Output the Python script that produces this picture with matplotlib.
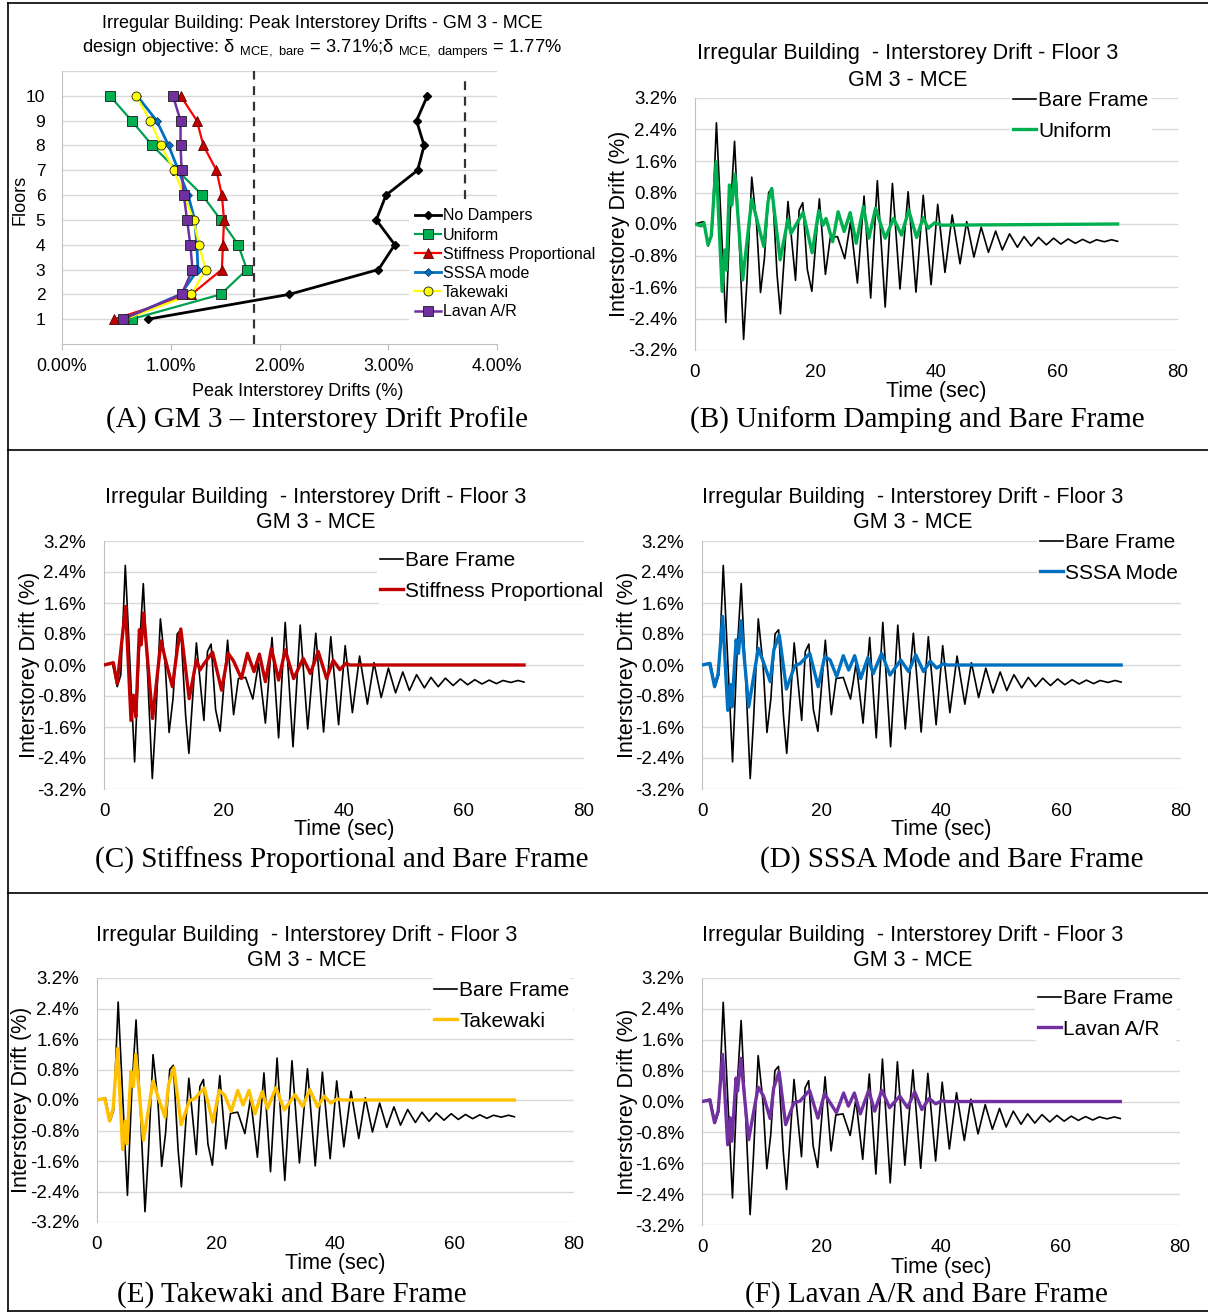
import matplotlib
matplotlib.use("Agg")
import matplotlib.pyplot as plt
from matplotlib.lines import Line2D

plt.rcParams['font.family'] = ['Liberation Sans', 'DejaVu Sans']

W, H = 1208, 1313

# ---------------- Peak interstorey drift profile (%) ----------------
floors = [1, 2, 3, 4, 5, 6, 7, 8, 9, 10]
no_dampers = [0.79, 2.09, 2.91, 3.06, 2.89, 2.98, 3.27, 3.33, 3.26, 3.36]
uniform_pk = [0.64, 1.46, 1.70, 1.62, 1.46, 1.29, 1.06, 0.83, 0.64, 0.44]
stiffness_pk = [0.48, 1.19, 1.47, 1.48, 1.49, 1.47, 1.42, 1.30, 1.24, 1.09]
sssa_pk = [0.56, 1.09, 1.25, 1.24, 1.22, 1.16, 1.07, 0.98, 0.87, 0.69]
takewaki_pk = [0.58, 1.19, 1.32, 1.26, 1.21, 1.12, 1.03, 0.91, 0.81, 0.68]
lavan_pk = [0.56, 1.10, 1.20, 1.18, 1.15, 1.12, 1.10, 1.09, 1.09, 1.02]
drift_mce_dampers = 1.77
drift_mce_bare = 3.71
dampers_limit_floors = [0.0, 11.0]
bare_limit_floors = [5.85, 10.75]

# ---------------- Floor 3 drift time histories (%) ----------------
bare_t = [0, 1.4, 2.2, 2.8, 3.55, 5.1, 5.85, 6.55, 7.25, 8.05, 8.6, 9.4, 10.2,
          10.85, 11.5, 12.2, 12.8, 13.6, 14.15, 15.4, 16.65, 17.25, 17.85, 18.6,
          19.35, 20.6, 21.6, 22.4, 23.6, 24.8, 25.75, 26.9, 28.0, 29.1, 30.2,
          31.5, 32.7, 33.95, 35.3, 36.6, 37.8, 39.1, 40.2, 41.4, 42.6, 43.9,
          45.0, 46.2, 47.4, 48.6, 49.8, 50.9, 52.1, 53.4, 54.5, 55.7, 56.9,
          58.2, 59.4, 60.6, 61.8, 63.0, 64.2, 65.4, 66.5, 67.8, 69.0, 70.0]
bare_v = [0, 0.06, -0.56, -0.26, 2.57, -2.50, 0.30, 2.10, -0.18, -2.93, -1.45,
          1.19, 0.0, -1.74, -0.87, 0.80, 0.91, -1.30, -2.28, 0.57, -1.43, 0.35,
          0.54, -1.15, -1.71, 0.64, -1.28, -0.35, -0.32, -0.88, 0.05, -1.50,
          0.71, -1.88, 1.10, -2.11, 1.03, -1.65, 0.82, -1.73, 0.73, -1.54, 0.50,
          -1.23, 0.23, -1.01, 0.06, -0.84, -0.08, -0.72, -0.18, -0.66, -0.25,
          -0.59, -0.32, -0.56, -0.34, -0.53, -0.36, -0.51, -0.38, -0.49, -0.39,
          -0.48, -0.40, -0.45, -0.40, -0.44]

uniform_t = [0, 1.05, 1.5, 2.15, 2.7, 3.5, 4.5, 4.9, 5.2, 5.7, 6.1, 6.6, 7.9,
             9.4, 10.4, 11.4, 12.1, 12.7, 14.1, 15.4, 15.9, 16.8, 17.9, 19.4,
             20.5, 21.2, 21.7, 22.8, 23.7, 24.7, 25.7, 26.7, 27.9, 28.8, 29.9,
             31.5, 32.9, 34.2, 35.4, 36.7, 37.8, 38.6, 39.7, 40.9, 70.0]
uniform_v = [0, -0.05, 0.03, -0.53, -0.30, 1.58, -1.71, -0.66, -1.17, 0.99,
             0.48, 1.27, -1.42, 0.63, 0.02, -0.57, 0.57, 0.90, -0.91, 0.12,
             -0.24, 0.0, 0.29, -0.73, 0.34, -0.03, 0.14, -0.45, 0.31, -0.19,
             0.29, -0.49, 0.44, -0.36, 0.40, -0.36, 0.14, -0.28, 0.35, -0.34,
             0.16, -0.11, 0.03, -0.03, 0.0]

stiff_t = [0, 1.55, 2.2, 3.6, 4.5, 4.9, 5.3, 5.9, 6.2, 6.6, 8.1, 9.5, 10.4,
           11.4, 12.2, 12.8, 14.2, 15.4, 16.0, 16.7, 18.1, 19.6, 20.7, 21.6,
           22.9, 23.9, 25.0, 25.9, 26.9, 27.9, 29.1, 30.2, 31.6, 33.2, 34.4,
           35.7, 37.1, 38.2, 39.3, 40.3, 41.0, 70.0]
stiff_v = [0, 0.06, -0.48, 1.51, -1.43, -0.78, -1.34, 0.91, 0.52, 1.34, -1.38,
           0.62, 0.04, -0.56, 0.39, 0.93, -0.87, 0.13, -0.13, 0.04, 0.33, -0.65,
           0.30, 0.10, -0.35, 0.30, -0.17, 0.28, -0.43, 0.43, -0.39, 0.39,
           -0.35, 0.17, -0.22, 0.35, -0.35, 0.12, -0.12, 0.04, 0.0, 0.0]

sssa_t = [0, 1.3, 2.1, 2.7, 3.45, 4.3, 4.7, 5.0, 5.7, 6.1, 6.5, 7.8, 9.4, 10.2,
          11.4, 12.0, 12.9, 14.1, 15.5, 16.4, 18.0, 19.4, 20.5, 21.4, 22.5,
          23.6, 24.5, 25.5, 26.5, 27.7, 28.6, 30.0, 31.4, 33.2, 34.5, 35.7,
          37.0, 38.1, 39.2, 40.3, 41.0, 70.0]
sssa_v = [0, 0.04, -0.56, -0.22, 1.25, -1.17, -0.50, -1.08, 0.65, 0.30, 1.14,
          -1.08, 0.43, 0.10, -0.43, 0.39, 0.78, -0.62, -0.02, 0.04, 0.30,
          -0.56, 0.22, 0.13, -0.30, 0.24, -0.13, 0.24, -0.35, 0.19, -0.22,
          0.30, -0.26, 0.13, -0.17, 0.26, -0.17, 0.10, -0.08, 0.03, 0.0, 0.0]

takewaki_t = [0, 1.3, 2.1, 2.7, 3.45, 4.3, 4.7, 5.0, 5.7, 6.1, 6.5, 7.8, 9.4,
              10.2, 11.4, 12.0, 12.9, 14.1, 15.5, 16.4, 18.0, 19.4, 20.5,
              21.4, 22.5, 23.6, 24.5, 25.5, 26.5, 27.7, 28.6, 30.0, 31.4,
              33.2, 34.5, 35.7, 37.0, 38.1, 39.2, 40.3, 41.0, 70.0]
takewaki_v = [0, 0.04, -0.55, -0.22, 1.35, -1.30, -0.55, -1.15, 0.75, 0.35,
              1.20, -1.05, 0.50, 0.10, -0.45, 0.40, 0.85, -0.65, -0.02, 0.04,
              0.32, -0.58, 0.25, 0.13, -0.30, 0.25, -0.13, 0.25, -0.36, 0.22,
              -0.22, 0.32, -0.26, 0.14, -0.17, 0.27, -0.18, 0.10, -0.08, 0.03,
              0.0, 0.0]

lavan_t = [0, 1.3, 2.1, 2.7, 3.45, 4.3, 4.7, 5.0, 5.7, 5.95, 6.5, 7.8, 9.4,
           10.3, 11.4, 12.0, 12.9, 14.0, 15.4, 16.4, 18.0, 19.4, 20.5, 22.5,
           23.7, 24.5, 25.5, 26.5, 27.9, 28.9, 30.1, 31.4, 33.1, 34.4, 35.6,
           36.8, 38.0, 39.1, 40.2, 41.0, 70.0]
lavan_v = [0, 0.04, -0.55, -0.25, 1.22, -1.12, -0.42, -1.03, 0.61, 0.27, 1.12,
           -0.99, 0.37, 0.14, -0.44, 0.35, 0.77, -0.60, -0.03, 0.01, 0.29,
           -0.43, 0.20, -0.29, 0.22, -0.12, 0.22, -0.32, 0.29, -0.25, 0.29,
           -0.16, 0.14, -0.16, 0.25, -0.21, 0.08, -0.06, 0.02, 0.0, 0.0]

drift_ticks = [-3.2, -2.4, -1.6, -0.8, 0.0, 0.8, 1.6, 2.4, 3.2]
time_ticks = [0, 20, 40, 60, 80]
profile_ticks = [0, 1, 2, 3, 4]

GRID = '#D9D9D9'
AXIS = '#BFBFBF'

fig = plt.figure(figsize=(W / 100, H / 100), dpi=100)


def px_axes(x0, y0, x1, y1):
    return fig.add_axes([x0 / W, 1 - y1 / H, (x1 - x0) / W, (y1 - y0) / H])


def ftext(x, y, s, **kw):
    kw.setdefault('ha', 'center')
    kw.setdefault('va', 'center')
    return fig.text(x / W, 1 - y / H, s, **kw)


def fpos(x, y):
    return (x / W, 1 - y / H)


# ---------------- panel frame lines ----------------
for (x0, y0, x1, y1) in [(8, 3, 1208, 3), (8, 450, 1208, 450), (8, 893, 1208, 893),
                         (8, 1311, 1208, 1311), (8, 3, 8, 1311)]:
    fig.add_artist(Line2D([x0 / W, x1 / W], [1 - y0 / H, 1 - y1 / H],
                          color='black', lw=1.2, transform=fig.transFigure))

# ---------------- (A) profile ----------------
axA = px_axes(62, 71, 497, 344)
axA.set_xlim(0, 4)
axA.set_ylim(0, 11)
for f in range(1, 12):
    axA.axhline(f, color=GRID, lw=1.0, zorder=0)
axA.plot([drift_mce_dampers] * 2, dampers_limit_floors, color='#333333', lw=1.6,
         ls=(0, (4, 3)), zorder=1)
axA.plot([drift_mce_bare] * 2, bare_limit_floors, color='#333333', lw=1.6,
         ls=(0, (4, 3)), zorder=1)
axA.plot(no_dampers, floors, color='black', lw=2, marker='D', ms=4,
         mfc='black', mec='black', label='No Dampers', zorder=3)
axA.plot(uniform_pk, floors, color='#00A050', lw=1.6, marker='s', ms=6.5,
         mfc='#00B050', mec='#1a1a1a', mew=0.6, label='Uniform', zorder=3)
axA.plot(stiffness_pk, floors, color='#FF0000', lw=1.6, marker='^', ms=6.5,
         mfc='#C00000', mec='#600000', mew=0.6, label='Stiffness Proportional', zorder=3)
axA.plot(sssa_pk, floors, color='#0070C0', lw=2, marker='D', ms=4,
         mfc='#0070C0', mec='#003060', mew=0.5, label='SSSA mode', zorder=3)
axA.plot(takewaki_pk, floors, color='#FFFF00', lw=1.6, marker='o', ms=6.5,
         mfc='#FFFF00', mec='#1a1a1a', mew=0.6, label='Takewaki', zorder=3)
axA.plot(lavan_pk, floors, color='#7030A0', lw=1.8, marker='s', ms=7.5,
         mfc='#7030A0', mec='#1a1a1a', mew=0.6, label='Lavan A/R', zorder=3)
axA.set_xticks(profile_ticks)
axA.set_xticklabels([f'{v:.2f}%' for v in profile_ticks], fontsize=12.8)
axA.set_yticks(floors)
axA.set_yticklabels([str(f) for f in floors], fontsize=12.5)
axA.tick_params(axis='x', length=4, color=AXIS, pad=6)
axA.tick_params(axis='y', length=0, pad=12)
for s in ['top', 'right']:
    axA.spines[s].set_visible(False)
for s in ['left', 'bottom']:
    axA.spines[s].set_color(AXIS)
legA = axA.legend(loc='upper left', bbox_to_anchor=fpos(409, 202),
                  bbox_transform=fig.transFigure, fontsize=11.5, frameon=True,
                  framealpha=1, edgecolor='none', facecolor='white',
                  handlelength=1.6, handletextpad=0.1, labelspacing=0.26,
                  borderpad=0.4, borderaxespad=0)
legA.set_zorder(5)
ftext(322, 24, 'Irregular Building: Peak Interstorey Drifts - GM 3 - MCE', fontsize=13)
ftext(322, 49, 'design objective: \u03b4 $_{\\mathregular{MCE,\\ bare}}$ = 3.71%;'
      '\u03b4 $_{\\mathregular{MCE,\\ dampers}}$ = 1.77%', fontsize=13.2)
ftext(20, 200, 'Floors', rotation=90, fontsize=13)
ftext(298, 391, 'Peak Interstorey Drifts (%)', fontsize=13)


# ---------------- time-history panels ----------------
def history_panel(box, series_t, series_v, color, label, title_xy, ylab_x,
                  xlab_y, leg_xy):
    x0, y0, x1, y1 = box
    ax = px_axes(x0, y0, x1, y1)
    ax.set_xlim(0, 80)
    ax.set_ylim(-3.2, 3.2)
    for v in drift_ticks:
        ax.axhline(v, color=GRID, lw=1.0, zorder=0)
    ax.plot(bare_t, bare_v, color='black', lw=1.2, label='Bare Frame', zorder=2)
    ax.plot(series_t, series_v, color=color, lw=2.4, label=label, zorder=3)
    ax.set_yticks(drift_ticks)
    ax.set_yticklabels([f'{abs(v):.1f}%' if v == 0 else f'{v:.1f}%'
                        for v in drift_ticks], fontsize=13.5)
    ax.set_xticks(time_ticks)
    ax.set_xticklabels([str(t) for t in time_ticks], fontsize=13.5)
    ax.tick_params(length=0)
    ax.tick_params(axis='y', pad=13)
    ax.tick_params(axis='x', pad=10)
    for s in ['top', 'right', 'bottom']:
        ax.spines[s].set_visible(False)
    ax.spines['left'].set_color(AXIS)
    leg = ax.legend(loc='upper left', bbox_to_anchor=fpos(*leg_xy),
                    bbox_transform=fig.transFigure, fontsize=15, frameon=True,
                    framealpha=1, edgecolor='none', facecolor='white',
                    handlelength=1.1, handletextpad=0.1, labelspacing=0.55,
                    borderpad=0.15, borderaxespad=0)
    leg.set_zorder(5)
    tx, ty = title_xy
    ftext(tx, ty, 'Irregular Building  - Interstorey Drift - Floor 3', fontsize=15.5)
    ftext(tx, ty + 26, 'GM 3 - MCE', fontsize=15.5)
    ftext(ylab_x, (y0 + y1) / 2, 'Interstorey Drift (%)', rotation=90, fontsize=15.5)
    ftext((x0 + x1) / 2, xlab_y, 'Time (sec)', fontsize=15.5)
    return ax


history_panel((695, 98, 1178, 350), uniform_t, uniform_v, '#00B050', 'Uniform',
              (908, 54), 620, 391, (1010, 88))
history_panel((104, 541, 584, 789), stiff_t, stiff_v, '#C00000',
              'Stiffness Proportional', (316, 497), 30, 829, (377, 548))
history_panel((702, 541, 1181, 789), sssa_t, sssa_v, '#0070C0', 'SSSA Mode',
              (913, 497), 628, 829, (1037, 530))
history_panel((97, 978, 574, 1222), takewaki_t, takewaki_v, '#FFC000', 'Takewaki',
              (307, 935), 22, 1263, (431, 978))
history_panel((702, 978, 1180, 1225), lavan_t, lavan_v, '#7030A0', 'Lavan A/R',
              (913, 935), 628, 1267, (1035, 986))

# ---------------- captions ----------------
cap = dict(fontsize=21, family='Liberation Serif')
ftext(317, 420, '(A) GM 3 \u2013 Interstorey Drift Profile', **cap)
ftext(917, 420, '(B) Uniform Damping and Bare Frame', **cap)
ftext(342, 860, '(C) Stiffness Proportional and Bare Frame', **cap)
ftext(952, 860, '(D) SSSA Mode and Bare Frame', **cap)
ftext(292, 1295, '(E) Takewaki and Bare Frame', **cap)
ftext(926, 1295, '(F) Lavan A/R and Bare Frame', **cap)

fig.savefig('out.png', dpi=100, facecolor='white')
